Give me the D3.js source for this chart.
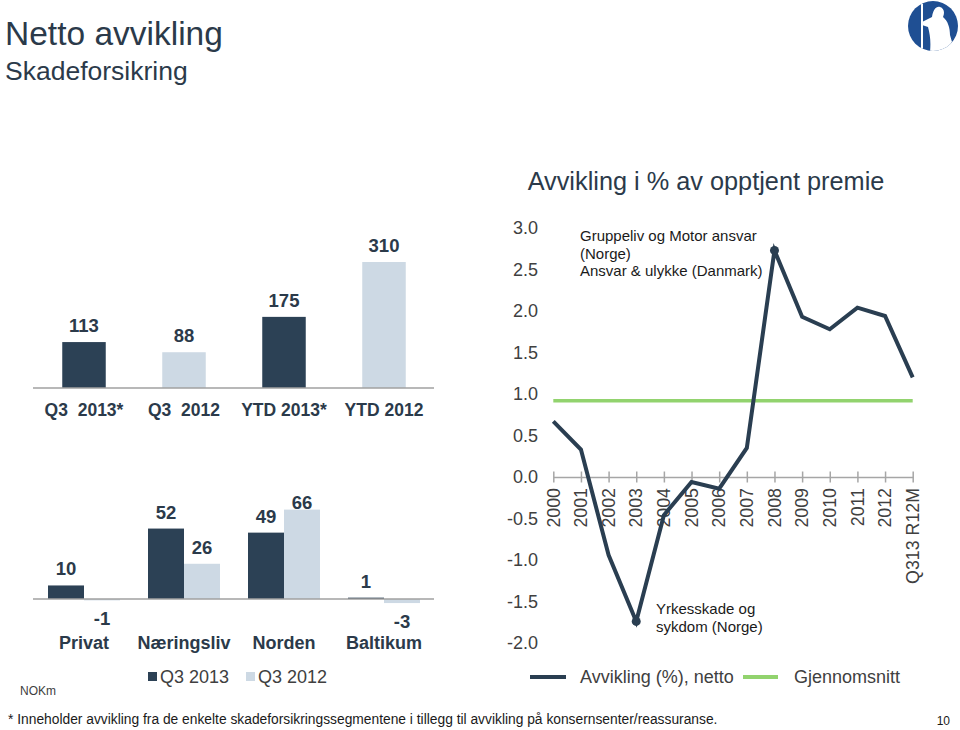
<!DOCTYPE html>
<html>
<head>
<meta charset="utf-8">
<script src="https://cdn.jsdelivr.net/npm/d3@7"></script>
<style>
  html, body { margin: 0; padding: 0; background: #fff; }
  svg { display: block; font-family: "Liberation Sans", Arial, sans-serif; }
</style>
</head>
<body>
<svg id="chart" width="960" height="730"></svg>
<script>
// ---------------- DATA ----------------
const topCategories = ["Q3  2013*", "Q3  2012", "YTD 2013*", "YTD 2012"];
const topValues = [113, 88, 175, 310];
const topSeries = ["Q3 2013", "Q3 2012", "Q3 2013", "Q3 2012"];

const segCategories = ["Privat", "Næringsliv", "Norden", "Baltikum"];
const seriesNames = ["Q3 2013", "Q3 2012"];
const segQ3_2013 = [10, 52, 49, 1];
const segQ3_2012 = [-1, 26, 66, -3];

const years = ["2000", "2001", "2002", "2003", "2004", "2005", "2006", "2007",
               "2008", "2009", "2010", "2011", "2012", "Q313 R12M"];
const avvikling = [0.67, 0.33, -0.94, -1.74, -0.46, -0.06, -0.14, 0.35,
                   2.73, 1.93, 1.78, 2.04, 1.94, 1.20];
const gjennomsnitt = 0.92;
const yTicks = [3.0, 2.5, 2.0, 1.5, 1.0, 0.5, 0.0, -0.5, -1.0, -1.5, -2.0];
const markedYears = ["2003", "2008"];
const lineLegend = ["Avvikling (%), netto", "Gjennomsnitt"];

// ---------------- STYLE ----------------
const DARK = "#2c4155";
const LIGHT = "#cdd9e4";
const LINE = "#2a3e51";
const GREEN = "#92d36e";
const TEXT = "#2b3a4a";
const AXIS_TXT = "#404040";
const colorOf = d3.scaleOrdinal().domain(seriesNames).range([DARK, LIGHT]);

const svg = d3.select("#chart");

// ---------------- HEADER ----------------
svg.append("text").attr("x", 5).attr("y", 45)
  .attr("font-size", 33.5).attr("fill", TEXT).text("Netto avvikling");
svg.append("text").attr("x", 5).attr("y", 80)
  .attr("font-size", 26.5).attr("fill", TEXT).text("Skadeforsikring");

// logo
const defs = svg.append("defs");
defs.append("clipPath").attr("id", "logoClip").append("circle").attr("r", 25);
const logo = svg.append("g").attr("transform", "translate(933,26)");
logo.append("circle").attr("r", 25).attr("fill", "#1f4f93");
const logoFig = logo.append("g").attr("clip-path", "url(#logoClip)");
logoFig.append("line").attr("x1", -11).attr("x2", -11).attr("y1", -22).attr("y2", 25)
  .attr("stroke", "#fff").attr("stroke-width", 2);
logoFig.append("path").attr("fill", "#fff")
  .attr("d", "M-11,-4 L-1,-9 C0,-16 3,-20 7,-19 C11,-18 12,-13 10,-9 C15,-5 17,2 17,9 L19,16 C17,20 13,23 7,26 L-3,26 C-2,16 -3,8 -5,1 L-11,-1 Z");

// ---------------- TOP BAR CHART ----------------
const xTop = d3.scaleBand().domain(topCategories).range([34, 434])
  .paddingInner(0.565).paddingOuter(0.2825);
const yTop = d3.scaleLinear().domain([0, 310]).range([388, 262]);

const gTop = svg.append("g");
gTop.selectAll("rect").data(topValues).join("rect")
  .attr("x", (d, i) => xTop(topCategories[i]))
  .attr("width", xTop.bandwidth())
  .attr("y", d => yTop(d))
  .attr("height", d => yTop(0) - yTop(d))
  .attr("fill", (d, i) => colorOf(topSeries[i]));
gTop.append("line").attr("x1", 33).attr("x2", 434)
  .attr("y1", yTop(0)).attr("y2", yTop(0))
  .attr("stroke", "#a0a0a0").attr("stroke-width", 1.5);
gTop.selectAll("text.val").data(topValues).join("text").attr("class", "val")
  .attr("x", (d, i) => xTop(topCategories[i]) + xTop.bandwidth() / 2)
  .attr("y", d => yTop(d) - 10)
  .attr("text-anchor", "middle").attr("font-size", 18.5).attr("font-weight", "bold")
  .attr("fill", TEXT).text(d => d);
gTop.selectAll("text.cat").data(topCategories).join("text").attr("class", "cat")
  .attr("x", d => xTop(d) + xTop.bandwidth() / 2)
  .attr("y", 416)
  .attr("text-anchor", "middle").attr("font-size", 17.5).attr("font-weight", "bold")
  .attr("fill", TEXT).style("white-space", "pre").text(d => d);

// ---------------- BOTTOM GROUPED BAR CHART ----------------
const xSeg = d3.scaleBand().domain(segCategories).range([34, 434])
  .paddingInner(0.28).paddingOuter(0.14);
const xSer = d3.scaleBand().domain(seriesNames).range([0, xSeg.bandwidth()]).padding(0);
const ySeg = d3.scaleLinear().domain([0, 66]).range([599, 509.6]);

const segRows = segCategories.map((c, i) => ({
  cat: c,
  vals: [{ s: seriesNames[0], v: segQ3_2013[i] }, { s: seriesNames[1], v: segQ3_2012[i] }]
}));
const gSeg = svg.append("g");
const grp = gSeg.selectAll("g.grp").data(segRows).join("g").attr("class", "grp")
  .attr("transform", d => `translate(${xSeg(d.cat)},0)`);
grp.selectAll("rect").data(d => d.vals).join("rect")
  .attr("x", d => xSer(d.s))
  .attr("width", xSer.bandwidth())
  .attr("y", d => Math.min(ySeg(d.v), ySeg(0)))
  .attr("height", d => Math.max(1, Math.abs(ySeg(d.v) - ySeg(0))))
  .attr("fill", d => colorOf(d.s));
gSeg.append("line").attr("x1", 33).attr("x2", 434)
  .attr("y1", ySeg(0)).attr("y2", ySeg(0))
  .attr("stroke", "#a0a0a0").attr("stroke-width", 1.5);
grp.selectAll("text").data(d => d.vals).join("text")
  .attr("x", d => xSer(d.s) + xSer.bandwidth() / 2)
  .attr("y", d => d.v >= 0 ? Math.max(ySeg(d.v) - 10, 509) : ySeg(d.v) + 25)
  .attr("text-anchor", "middle").attr("font-size", 18.5).attr("font-weight", "bold")
  .attr("fill", TEXT).text(d => d.v);
gSeg.selectAll("text.cat").data(segCategories).join("text").attr("class", "cat")
  .attr("x", d => xSeg(d) + xSeg.bandwidth() / 2)
  .attr("y", 649)
  .attr("text-anchor", "middle").attr("font-size", 18).attr("font-weight", "bold")
  .attr("fill", TEXT).text(d => d);

// bar legend
const barLeg = svg.append("g");
const legX = [148, 246];
seriesNames.forEach((s, i) => {
  barLeg.append("rect").attr("x", legX[i]).attr("y", 672).attr("width", 9).attr("height", 9)
    .attr("fill", colorOf(s));
  barLeg.append("text").attr("x", legX[i] + 12).attr("y", 683)
    .attr("font-size", 18).attr("fill", AXIS_TXT).text(s);
});
svg.append("text").attr("x", 20).attr("y", 695).attr("font-size", 12)
  .attr("fill", AXIS_TXT).text("NOKm");

// ---------------- LINE CHART ----------------
svg.append("text").attr("x", 706).attr("y", 190).attr("text-anchor", "middle")
  .attr("font-size", 25.3).attr("fill", TEXT).text("Avvikling i % av opptjent premie");

const xL = d3.scalePoint().domain(years).range([553.3, 912.7]);
const yL = d3.scaleLinear().domain([-2, 3]).range([643, 228]);
const gL = svg.append("g");

// y tick labels
gL.selectAll("text.yt").data(yTicks).join("text").attr("class", "yt")
  .attr("x", 538).attr("y", d => yL(d)).attr("dy", "0.35em")
  .attr("text-anchor", "end").attr("font-size", 18).attr("fill", AXIS_TXT)
  .text(d => d3.format(".1f")(d).replace("−", "-"));

// x axis at zero
const xAxis = d3.axisBottom(xL).tickSizeInner(5.5).tickSizeOuter(0).tickFormat("");
const xAxisG = gL.append("g").attr("transform", `translate(0,${yL(0)})`).call(xAxis);
xAxisG.select(".domain").attr("stroke", "#a6a6a6").attr("stroke-width", 1.5);
xAxisG.selectAll(".tick line").attr("stroke", "#a6a6a6").attr("stroke-width", 1.5)
  .attr("y1", -5.5);
gL.selectAll("text.xt").data(years).join("text").attr("class", "xt")
  .attr("transform", d => `translate(${xL(d)},488) rotate(-90)`)
  .attr("dy", "0.35em").attr("text-anchor", "end")
  .attr("font-size", 17.8).attr("fill", AXIS_TXT).text(d => d);

// average line
gL.append("line").attr("x1", xL(years[0])).attr("x2", xL(years[years.length - 1]))
  .attr("y1", yL(gjennomsnitt)).attr("y2", yL(gjennomsnitt))
  .attr("stroke", GREEN).attr("stroke-width", 3.5);

// series line
const lineGen = d3.line().x((d, i) => xL(years[i])).y(d => yL(d));
gL.append("path").datum(avvikling).attr("d", lineGen)
  .attr("fill", "none").attr("stroke", LINE).attr("stroke-width", 4)
  .attr("stroke-linejoin", "miter");
gL.selectAll("circle.mk").data(markedYears).join("circle").attr("class", "mk")
  .attr("cx", d => xL(d)).attr("cy", d => yL(avvikling[years.indexOf(d)]))
  .attr("r", 4.5).attr("fill", LINE);

// annotations
const ann1 = ["Gruppeliv og Motor ansvar", "(Norge)", "Ansvar & ulykke (Danmark)"];
gL.selectAll("text.a1").data(ann1).join("text").attr("class", "a1")
  .attr("x", 580).attr("y", (d, i) => 241 + i * 17.5)
  .attr("font-size", 15).attr("fill", "#1a1a1a").text(d => d);
const ann2 = ["Yrkesskade og", "sykdom (Norge)"];
gL.selectAll("text.a2").data(ann2).join("text").attr("class", "a2")
  .attr("x", 656).attr("y", (d, i) => 614 + i * 17.5)
  .attr("font-size", 15).attr("fill", "#1a1a1a").text(d => d);

// line legend
const lLeg = svg.append("g");
lLeg.append("line").attr("x1", 530).attr("x2", 566).attr("y1", 677).attr("y2", 677)
  .attr("stroke", LINE).attr("stroke-width", 4);
lLeg.append("text").attr("x", 580).attr("y", 683).attr("font-size", 18)
  .attr("fill", AXIS_TXT).text(lineLegend[0]);
lLeg.append("line").attr("x1", 743).attr("x2", 778).attr("y1", 677).attr("y2", 677)
  .attr("stroke", GREEN).attr("stroke-width", 4);
lLeg.append("text").attr("x", 794).attr("y", 683).attr("font-size", 18)
  .attr("fill", AXIS_TXT).text(lineLegend[1]);

// ---------------- FOOTER ----------------
svg.append("text").attr("x", 8).attr("y", 724).attr("font-size", 13.8).attr("fill", "#1a1a1a")
  .text("* Inneholder avvikling fra de enkelte skadeforsikringssegmentene i tillegg til avvikling på konsernsenter/reassuranse.");
svg.append("text").attr("x", 950).attr("y", 725).attr("text-anchor", "end")
  .attr("font-size", 12).attr("fill", "#1a1a1a").text("10");
</script>
</body>
</html>
